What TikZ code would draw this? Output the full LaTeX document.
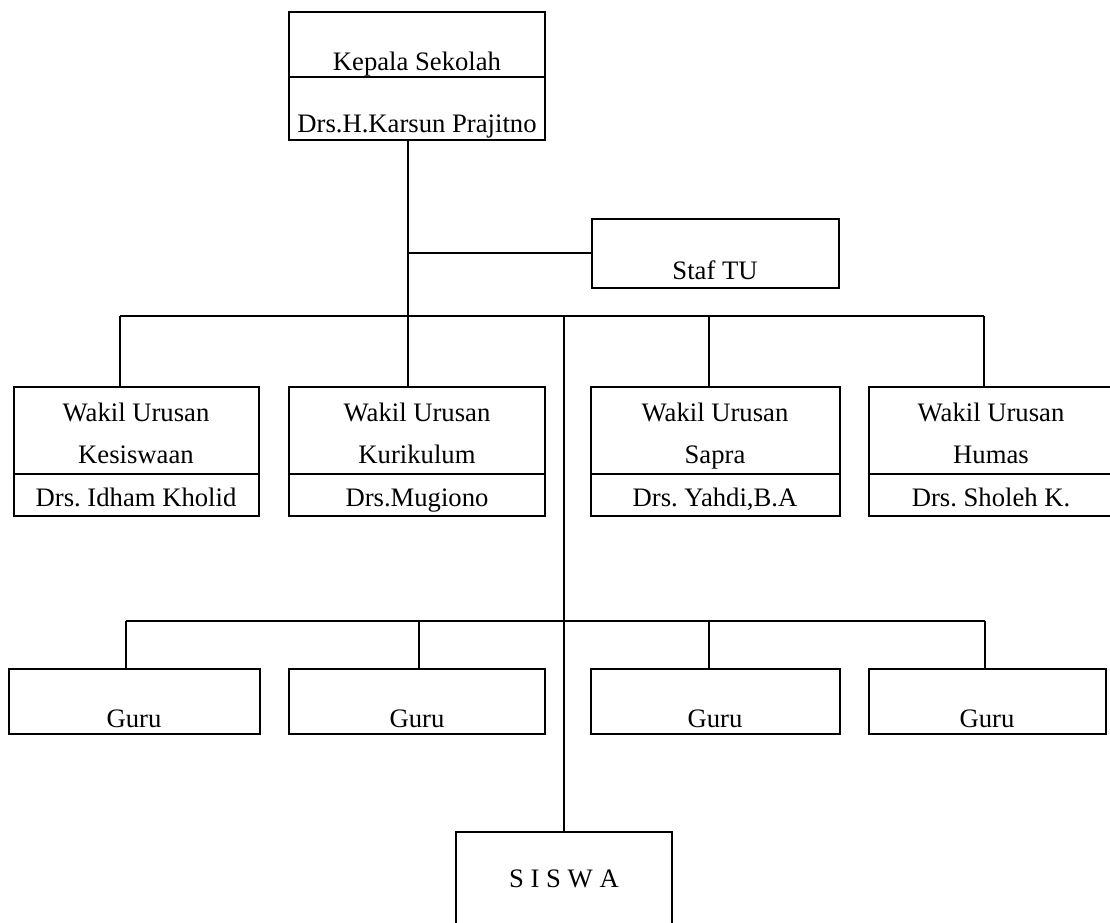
\documentclass[tikz,border=0pt]{standalone}
\usepackage{fontspec}
\setmainfont{Liberation Serif}
\usetikzlibrary{fit}
\begin{document}
\frenchspacing
\begin{tikzpicture}[x=0.75pt,y=-0.75pt,
  box/.style={draw=black,line width=2pt,inner sep=0pt},
  divline/.style={draw=black,line width=2pt},
  conn/.style={draw=black,line width=1.4pt},
  txt/.style={anchor=base,inner sep=0pt,font=\fontsize{20}{24}\selectfont}]
\useasboundingbox[fill=white] (0,0) rectangle (1110,922);
% boxes
\node[box,fit={(289,12) (545,140)}] (K) {};
\node[box,fit={(592,219) (839,288)}] (T) {};
\node[box,fit={(14,387) (259,516)}] (W1) {};
\node[box,fit={(289,387) (545,516)}] (W2) {};
\node[box,fit={(591,387) (840,516)}] (W3) {};
\node[box,fit={(869,387) (1113,516)}] (W4) {};
\node[box,fit={(9,669) (260,734)}] (G1) {};
\node[box,fit={(289,669) (545,734)}] (G2) {};
\node[box,fit={(591,669) (840,734)}] (G3) {};
\node[box,fit={(869,669) (1106,734)}] (G4) {};
\node[box,fit={(456,832) (672,940)}] (S) {};
% dividers
\draw[divline] (K.west |- 0,77) -- (K.east |- 0,77);
\draw[divline] (W1.west |- 0,474) -- (W1.east |- 0,474);
\draw[divline] (W2.west |- 0,474) -- (W2.east |- 0,474);
\draw[divline] (W3.west |- 0,474) -- (W3.east |- 0,474);
\draw[divline] (W4.west |- 0,474) -- (W4.east |- 0,474);
% texts
\node[txt] (k1) at (417,70) {Kepala Sekolah};
\node[txt] (k2) at (417,132) {Drs.H.Karsun Prajitno};
\node[txt] (t1) at (715,279) {Staf TU};
\node[txt] (w1a) at (136,421) {Wakil Urusan};
\node[txt] (w1b) at (136,463) {Kesiswaan};
\node[txt] (w1c) at (136,506) {Drs. Idham Kholid};
\node[txt] (w2a) at (417,421) {Wakil Urusan};
\node[txt] (w2b) at (417,463) {Kurikulum};
\node[txt] (w2c) at (417,506) {Drs.Mugiono};
\node[txt] (w3a) at (715,421) {Wakil Urusan};
\node[txt] (w3b) at (715,463) {Sapra};
\node[txt] (w3c) at (715,506) {Drs. Yahdi,B.A};
\node[txt] (w4a) at (991,421) {Wakil Urusan};
\node[txt] (w4b) at (991,463) {Humas};
\node[txt] (w4c) at (991,506) {Drs. Sholeh K.};
\node[txt] (g1t) at (134,727) {Guru};
\node[txt] (g2t) at (417,727) {Guru};
\node[txt] (g3t) at (715,727) {Guru};
\node[txt] (g4t) at (987,727) {Guru};
\node[txt] (st) at (564,887) {S I S W A};
% connector coordinates
\coordinate (kx) at (408,0);
\coordinate (tb) at (408,253);
\coordinate (b1) at (120,316);
\coordinate (b3) at (709,316);
\coordinate (b4) at (984,316);
\coordinate (sb) at (564,316);
\coordinate (g1) at (126,621);
\coordinate (g2) at (419,621);
\coordinate (g3) at (709,621);
\coordinate (g4) at (985,621);
% connectors
\draw[conn] (K.south -| kx) -- (W2.north -| kx);
\draw[conn] (tb) -- (T.west |- tb);
\draw[conn] (b1) -- (b4);
\draw[conn] (b1) -- (W1.north -| b1);
\draw[conn] (b3) -- (W3.north -| b3);
\draw[conn] (b4) -- (W4.north -| b4);
\draw[conn] (sb) -- (S.north -| sb);
\draw[conn] (g1) -- (g4);
\draw[conn] (g1) -- (G1.north -| g1);
\draw[conn] (g2) -- (G2.north -| g2);
\draw[conn] (g3) -- (G3.north -| g3);
\draw[conn] (g4) -- (G4.north -| g4);
\end{tikzpicture}
\end{document}
